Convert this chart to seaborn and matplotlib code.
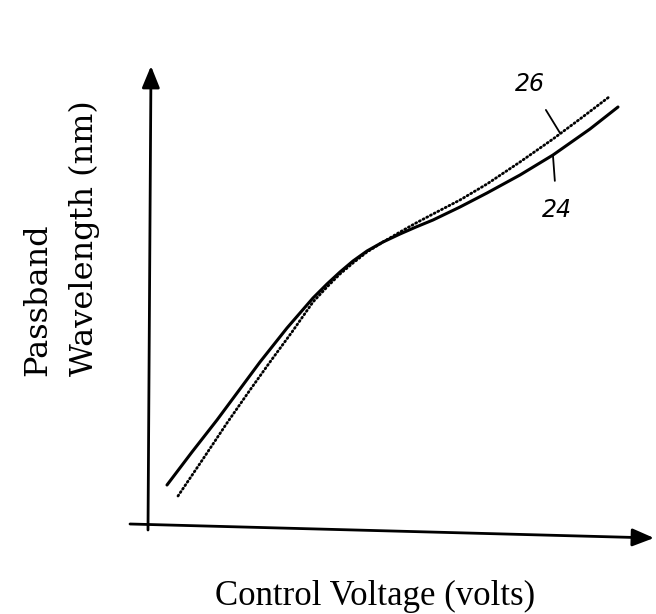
import matplotlib
matplotlib.use("Agg")
import matplotlib.pyplot as plt
import seaborn as sns

# Curve 24 (solid) and curve 26 (dotted); arbitrary units
v_24 = [19, 44, 69, 92, 112, 139, 165, 179, 192, 205, 219, 235, 252, 268, 285, 312, 339, 372, 405, 442, 470]
w_24 = [42, 75, 107, 138, 165, 199, 229, 243, 255, 266, 276, 285, 293, 300, 307, 320, 334, 352, 372, 398, 420]
v_26 = [30, 55, 79, 102, 122, 144, 165, 179, 192, 205, 219, 235, 252, 268, 285, 312, 339, 372, 405, 432, 461]
w_26 = [31, 68, 104, 137, 165, 195, 225, 240, 253, 264, 275, 285, 295, 304, 313, 327, 343, 365, 388, 408, 430]

x_label = "Control Voltage (volts)"
y_label = "Passband\nWavelength (nm)"
label_24 = "24"
label_26 = "26"

sns.set_theme(style="white")
W, H = 656, 614
fig = plt.figure(figsize=(W / 100, H / 100), dpi=100)
ax = fig.add_axes([148 / W, 1 - 527 / H, (645 - 148) / W, (527 - 70) / H])
ax.set_xlim(0, 497)
ax.set_ylim(0, 457)
for s in ax.spines.values():
    s.set_visible(False)
ax.set_xticks([])
ax.set_yticks([])
ax.set_facecolor("none")

sns.lineplot(x=v_24, y=w_24, ax=ax, color="black", lw=2.2, sort=False,
             solid_joinstyle="round")
sns.lineplot(x=v_26, y=w_26, ax=ax, color="black", lw=2.0, sort=False,
             linestyle=(0, (0.4, 1.1)), dash_capstyle="round")

def fp(x, y):
    return (x, H - y)

arrowprops = dict(arrowstyle="-|>,head_length=1.1,head_width=0.45", color="black", lw=2.0,
                  shrinkA=0, shrinkB=0)
ax.annotate("", xy=fp(151, 66), xytext=fp(148, 530), xycoords="figure pixels",
            textcoords="figure pixels", arrowprops=arrowprops, annotation_clip=False)
ax.annotate("", xy=fp(654, 538), xytext=fp(130, 524), xycoords="figure pixels",
            textcoords="figure pixels", arrowprops=arrowprops, annotation_clip=False)

fig.text(215 / W, 1 - 605 / H, x_label, family="Liberation Serif", fontsize=25,
         ha="left", va="baseline", color="black")
fig.text(61 / W, 1 - 376 / H, y_label, family="DejaVu Serif", fontsize=23,
         rotation=90, ha="center", va="bottom", multialignment="left",
         linespacing=1.65, color="black")

ax.annotate(label_26, xy=fp(560, 133), xytext=fp(530, 84), xycoords="figure pixels",
            textcoords="figure pixels", fontsize=17, style="italic", family="DejaVu Sans",
            ha="center", va="center", color="black",
            arrowprops=dict(arrowstyle="-", color="black", lw=1.3, shrinkA=9, shrinkB=0),
            annotation_clip=False)
ax.annotate(label_24, xy=fp(553, 156), xytext=fp(557, 210), xycoords="figure pixels",
            textcoords="figure pixels", fontsize=17, style="italic", family="DejaVu Sans",
            ha="center", va="center", color="black",
            arrowprops=dict(arrowstyle="-", color="black", lw=1.3, shrinkA=10, shrinkB=0),
            annotation_clip=False)

fig.savefig("out.png", dpi=100, facecolor="white")
